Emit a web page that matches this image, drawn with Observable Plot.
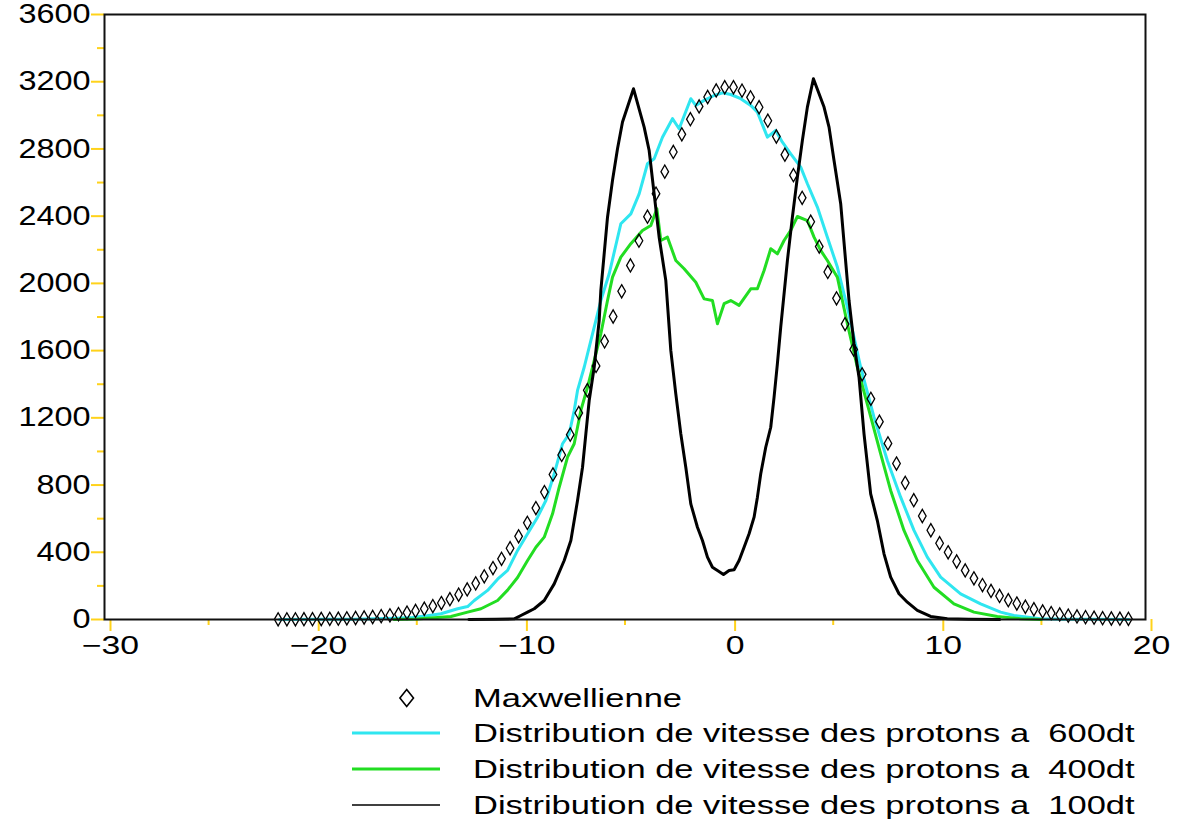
<!DOCTYPE html>
<html><head><meta charset="utf-8">
<script src="https://cdn.jsdelivr.net/npm/d3@7"></script>
<script src="https://cdn.jsdelivr.net/npm/@observablehq/plot@0.6"></script>
<style>
body{margin:0;background:#fff;}
#wrap{position:relative;width:1184px;height:821px;overflow:hidden;font-family:"Liberation Sans",Arial,sans-serif;background:#fff;}
#chart{position:absolute;left:0;top:0;}
.row{position:absolute;left:352px;height:36px;display:flex;align-items:center;}
.row svg{width:88px;height:36px;flex:none;}
.row span{margin-left:33px;font-size:25px;line-height:36px;white-space:pre;transform:scaleX(1.38);transform-origin:left center;display:inline-block;color:#000;}
</style></head>
<body>
<div id="wrap"><div id="chart"></div><div id="legend"></div></div>
<script>
// ---- tick labels ----
const xMajor = [-30, -20, -10, 0, 10, 20];
const xMinor = [-25, -15, -5, 5, 15];
const yMajor = [0, 400, 800, 1200, 1600, 2000, 2400, 2800, 3200, 3600];
const yMinor = [200, 600, 1000, 1400, 1800, 2200, 2600, 3000, 3400];

// ---- Maxwellienne (diamonds) ----
const vMaxwell = [-21.66,-21.24,-20.83,-20.42,-20.01,-19.59,-19.18,-18.77,-18.36,-17.94,-17.53,-17.12,-16.71,-16.29,-15.88,-15.47,-15.06,-14.64,-14.23,-13.82,-13.41,-12.99,-12.58,-12.17,-11.76,-11.34,-10.93,-10.52,-10.11,-9.69,-9.28,-8.87,-8.46,-8.04,-7.63,-7.22,-6.81,-6.39,-5.98,-5.57,-5.16,-4.74,-4.33,-3.92,-3.51,-3.09,-2.68,-2.27,-1.86,-1.44,-1.03,-0.62,-0.21,
  0.21,0.62,1.03,1.44,1.86,2.27,2.68,3.09,3.51,3.92,4.33,4.74,5.16,5.57,5.98,6.39,6.81,7.22,7.63,8.04,8.46,8.87,9.28,9.69,10.11,10.52,10.93,11.34,11.76,12.17,12.58,12.99,13.41,13.82,14.23,14.64,15.06,15.47,15.88,16.29,16.71,17.12,17.53,17.94,18.36,18.77,19.18];
const fMaxwell = [1,1,1,2,2,3,4,5,7,9,12,15,20,25,32,41,51,64,80,98,121,148,179,215,257,306,361,424,495,575,663,758,863,979,1100,1229,1364,1509,1655,1803,1953,2107,2254,2397,2534,2665,2782,2887,2977,3053,3109,3148,3167,
  3167,3147,3107,3048,2968,2874,2766,2644,2509,2367,2219,2068,1911,1758,1607,1459,1313,1177,1048,928,813,710,616,531,454,400,345,292,245,205,170,140,115,95,76,61,48,38,30,23,18,14,11,8,6,5,4];

// ---- 600dt (cyan) ----
const v600 = [-21.6,-19.5,-18,-17,-16,-15.2,-14.5,-13.84,-13.04,-12.56,-12.24,-11.6,-11.12,-10.64,-10.16,-9.68,-9.2,-8.8,-8.4,-8.0,-7.68,-7.44,-7.28,-6.96,-6.56,-6.16,-5.76,-5.2,-4.72,-4.32,-3.92,-3.6,-3.2,-2.72,-2.4,-1.84,-1.6,-1.2,-0.72,-0.32,0.08,0.56,1.04,1.36,1.84,2.24,2.56,2.96,3.44,3.76,4.24,4.72,5.2,5.68,6.32,6.96,7.6,8.24,8.88,9.52,10.16,11.12,12.08,13.04,13.68,14.96,16,17.5,19.2];
const f600 = [0,1,2,4,8,12,22,34,64,77,113,173,240,292,411,510,609,708,867,1046,1105,1244,1363,1501,1700,1898,2057,2355,2414,2533,2712,2742,2870,2980,2920,3099,3059,3089,3118,3134,3124,3099,3059,3019,2870,2910,2840,2771,2692,2593,2454,2275,2097,1858,1501,1204,946,728,530,371,252,153,93,44,24,4,2,1,0];

// ---- 400dt (green) ----
const v400 = [-16.1,-15,-14.16,-13.36,-12.56,-11.92,-11.12,-10.64,-10.16,-9.68,-9.28,-8.88,-8.48,-8.16,-7.76,-7.44,-7.12,-6.8,-6.48,-6.16,-5.84,-5.6,-5.2,-4.72,-4.16,-3.76,-3.47,-3.28,-2.96,-2.56,-2.16,-1.6,-1.2,-0.8,-0.56,-0.24,0.08,0.48,1.04,1.36,1.68,2.0,2.32,2.64,2.96,3.28,3.76,4.08,4.4,4.72,5.2,5.68,6.16,6.72,7.28,7.76,8.4,9.04,9.84,10.8,11.76,12.88,14,15];
const f400 = [0,3,10,18,44,64,113,175,250,351,430,490,629,787,966,1046,1244,1382,1541,1700,1898,2037,2156,2236,2315,2345,2444,2255,2275,2136,2087,2007,1908,1898,1760,1879,1898,1869,1968,1968,2077,2206,2176,2255,2315,2398,2374,2275,2196,2136,2037,1760,1501,1244,986,768,530,351,192,93,44,18,4,0];

// ---- 100dt (black) ----
const v100 = [-12.5,-11.2,-10.32,-10,-9.68,-9.36,-8.88,-8.4,-7.92,-7.6,-7.28,-7.04,-6.88,-6.72,-6.48,-6.24,-6.16,-5.84,-5.6,-5.36,-5.12,-4.59,-4.08,-3.84,-3.6,-3.36,-3.04,-2.8,-2.56,-2.32,-2.08,-1.84,-1.52,-1.28,-1.04,-0.8,-0.56,-0.27,0,0.24,0.48,0.72,0.96,1.2,1.36,1.52,1.76,2.0,2.16,2.32,2.48,2.8,3.04,3.28,3.52,3.76,4.05,4.56,4.8,5.04,5.36,5.76,6.0,6.24,6.48,6.8,7.12,7.44,7.76,8.16,8.56,9.04,9.68,10.48,11.5,13];
const f100 = [0,2,4,24,44,64,113,212,351,470,708,906,1105,1303,1501,1779,1958,2394,2613,2801,2960,3158,2930,2791,2533,2275,2017,1601,1343,1105,906,688,549,470,371,311,292,268,292,296,351,430,510,609,728,867,1025,1144,1323,1522,1740,2136,2394,2632,2851,3049,3218,3049,2930,2731,2474,1898,1641,1442,1105,748,589,391,252,153,103,54,18,4,1,0];

const legendLabels = ["Maxwellienne",
  "Distribution de vitesse des protons a  600dt",
  "Distribution de vitesse des protons a  400dt",
  "Distribution de vitesse des protons a  100dt"];

const TICK = "#ffd21a", CYAN = "#2fe6f0", GREEN = "#22dd22";
const toRows = (vs, fs) => vs.map((v, i) => ({v, f: fs[i]}));
const fmt = d3.format("d");

const chart = Plot.plot({
  width: 1184, height: 670,
  marginLeft: 104, marginRight: 39, marginTop: 14, marginBottom: 51,
  x: {domain: [-30, 20], label: null},
  y: {domain: [0, 3600], label: null},
  style: {fontFamily: "'Liberation Sans', Arial, sans-serif", background: "white", color: "black", overflow: "visible"},
  marks: [
    Plot.axisY(yMinor, {tickSize: 7, stroke: TICK, strokeWidth: 2, tickFormat: () => ""}),
    Plot.axisY(yMajor, {tickSize: 13, tickPadding: 1, stroke: TICK, strokeWidth: 2, fill: "black", fontSize: 27, tickFormat: fmt}),
    Plot.axisX(xMinor, {tickSize: 6, stroke: TICK, strokeWidth: 2, tickFormat: () => ""}),
    Plot.axisX(xMajor, {tickSize: 12, tickPadding: 5, stroke: TICK, strokeWidth: 2, fill: "black", fontSize: 25, tickFormat: fmt, dx: 6}),
    Plot.line(toRows(v600, f600), {x: "v", y: "f", stroke: CYAN, strokeWidth: 3}),
    Plot.line(toRows(v400, f400), {x: "v", y: "f", stroke: GREEN, strokeWidth: 3}),
    Plot.line(toRows(v100, f100), {x: "v", y: "f", stroke: "black", strokeWidth: 3}),
    Plot.dot(toRows(vMaxwell, fMaxwell), {x: "v", y: "f", symbol: "diamond", r: 4, stroke: "black", strokeWidth: 1.3, fill: "none"}),
    Plot.frame({stroke: "#111", strokeWidth: 2})
  ]
});
document.getElementById("chart").appendChild(chart);

// horizontally stretch the tick labels like the reference (keep em-based y offsets)
function stretch(el, sx) {
  let pre = "";
  const xa = el.getAttribute("x");
  if (xa !== null && /^-?[\d.]+$/.test(xa)) { pre = ` translate(${xa},0)`; el.removeAttribute("x"); }
  const t = el.getAttribute("transform") || "";
  el.setAttribute("transform", `${t}${pre} scale(${sx},1)`);
}
chart.querySelectorAll('g[aria-label="y-axis tick label"] text').forEach(el => stretch(el, 1.2));
chart.querySelectorAll('g[aria-label="x-axis tick label"] text').forEach(el => stretch(el, 1.35));

// legend
const centers = [698, 733, 769, 805];
const legend = document.getElementById("legend");
legendLabels.forEach((lab, i) => {
  const row = document.createElement("div");
  row.className = "row";
  row.style.top = (centers[i] - 18) + "px";
  let sym;
  if (i === 0) sym = '<svg viewBox="0 0 88 36"><polygon points="54.7,9.5 61.5,18 54.7,26.5 47.9,18" fill="none" stroke="black" stroke-width="1.6"/></svg>';
  else {
    const c = [null, CYAN, GREEN, "black"][i], w = i === 3 ? 1.6 : 3;
    sym = `<svg viewBox="0 0 88 36"><line x1="0" x2="88" y1="18" y2="18" stroke="${c}" stroke-width="${w}"/></svg>`;
  }
  row.innerHTML = sym + `<span>${lab}</span>`;
  legend.appendChild(row);
});
</script>
</body></html>
